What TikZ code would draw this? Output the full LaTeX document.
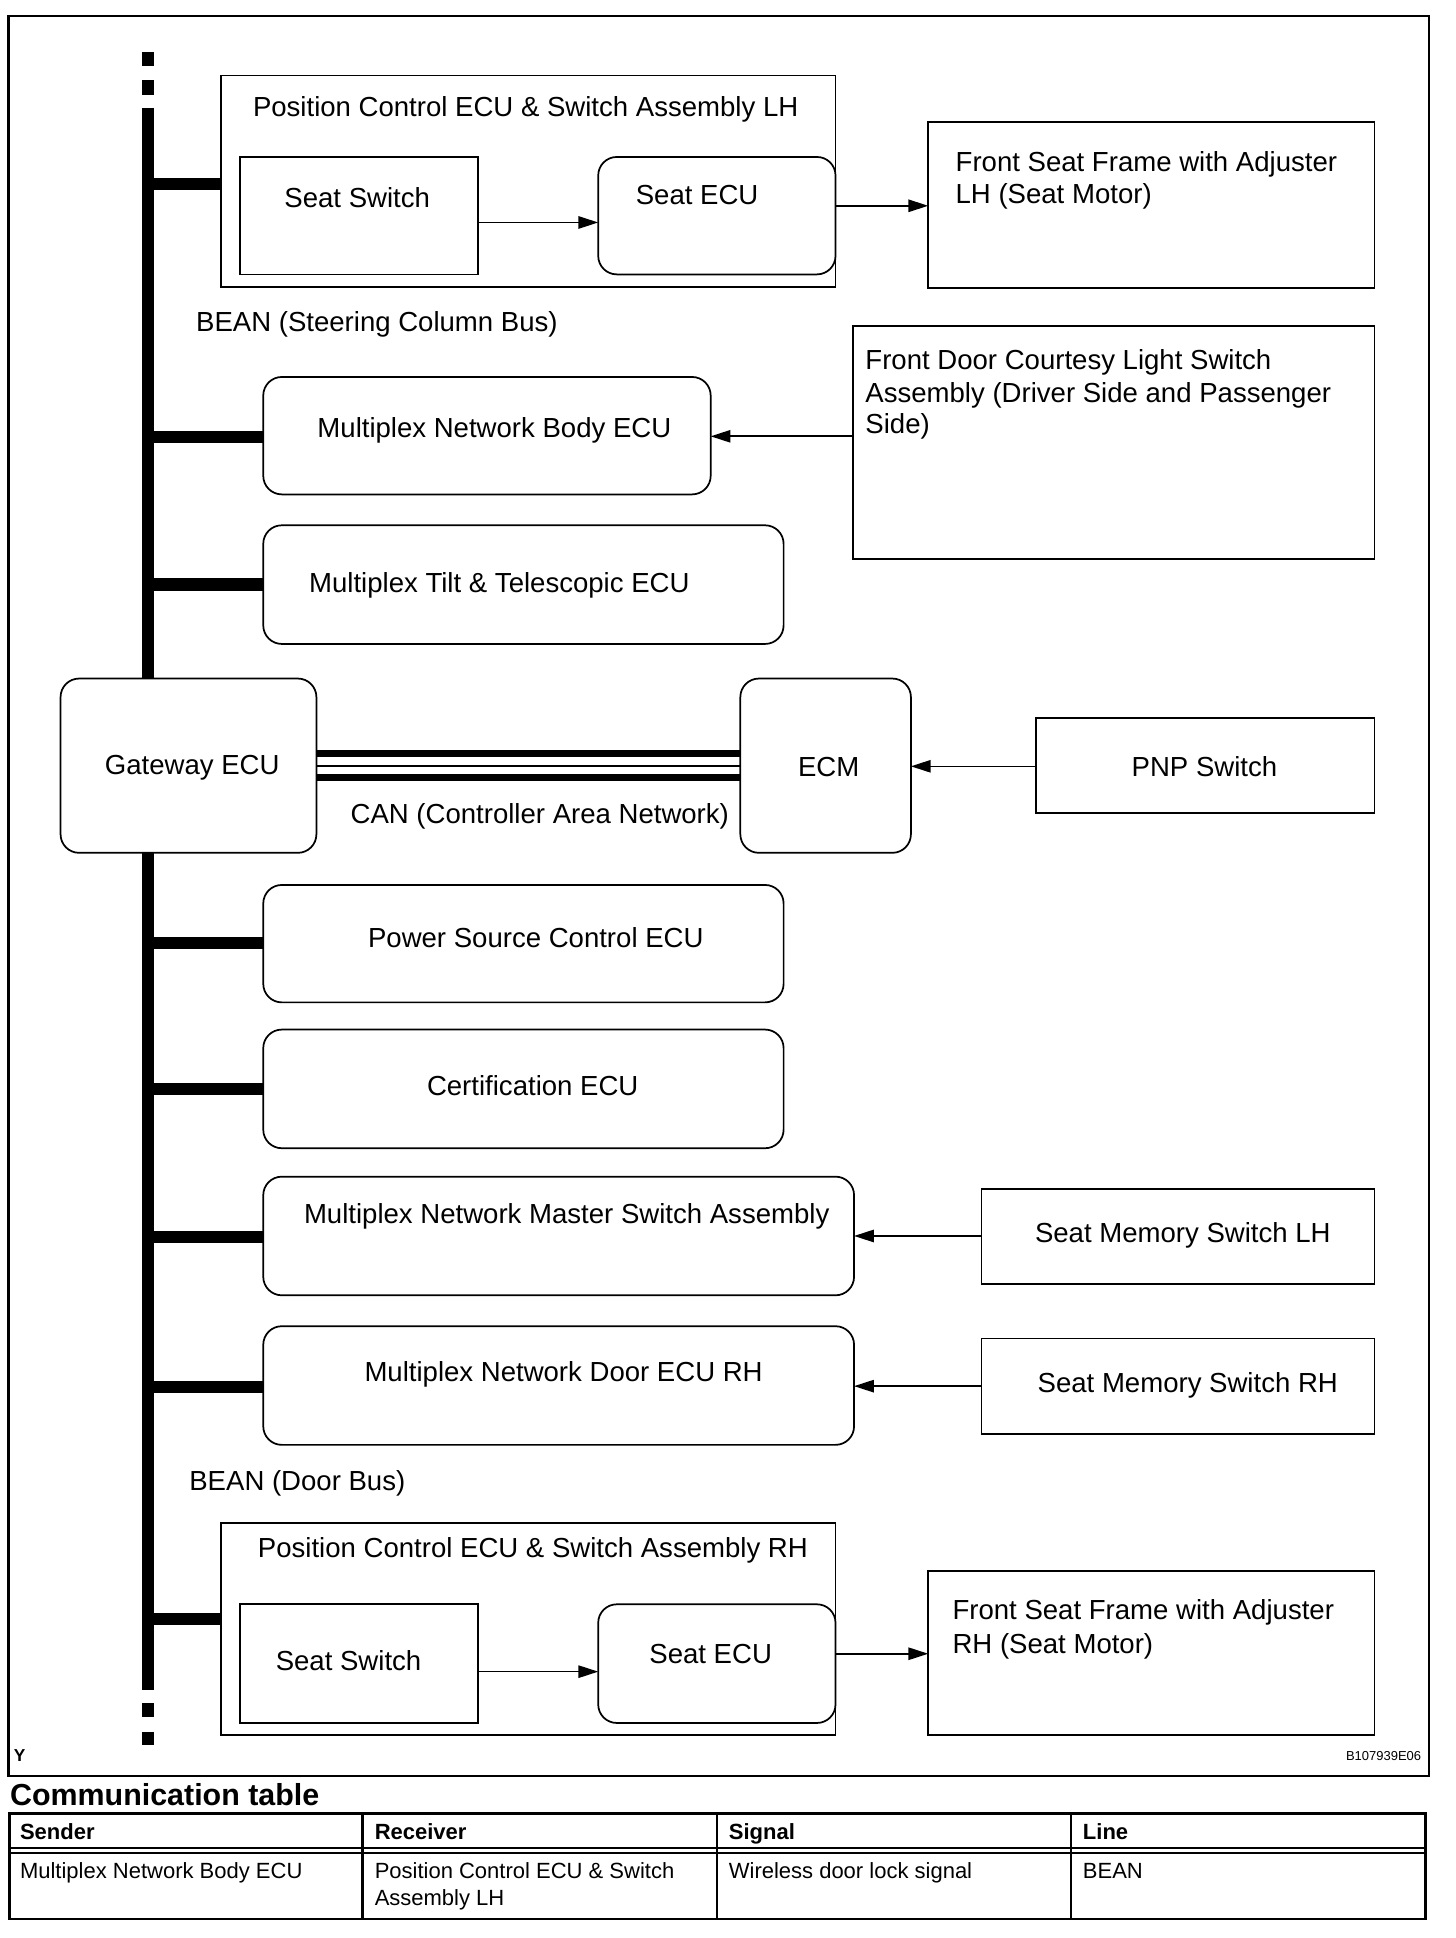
\documentclass[tikz,border=0pt]{standalone}
\usepackage{fontspec}
\setmainfont{Liberation Sans}
\usetikzlibrary{arrows.meta}
\newcommand\mkbox[6]{\node[#2, minimum width=#5-#3, minimum height=#6-#4] (#1) at (#3,#4) {};}
\begin{document}
\begin{tikzpicture}[x=1pt,y=-1pt,
  box/.style={draw, line width=1.4pt, fill=white, anchor=north west, inner sep=0pt, outer sep=0pt},
  rbox/.style={box, rounded corners=15pt},
  txt/.style={font=\fontsize{22.3}{26.5}\selectfont, inner sep=0pt},
  ltxt/.style={txt, anchor=base west},
  ctxt/.style={txt, anchor=base},
  arr/.style={line width=1.3pt, -{Triangle[length=16pt,width=10pt]}},
  stub/.style={line width=10pt},
  busline/.style={line width=10pt},
  tbl/.style={line width=2.2pt},
  thtxt/.style={font=\fontsize{17.8}{23}\selectfont\bfseries, inner sep=0pt, anchor=base west},
  tdtxt/.style={font=\fontsize{17.8}{23}\selectfont, inner sep=0pt, anchor=base west},
  ]
\useasboundingbox (0,0) rectangle (1178,1568);
% outer frame
\draw[line width=2pt] (7,13) rectangle (1156,1437);
% bus
\coordinate (bus) at (120,0);
\draw[busline] (120,42) -- (120,53);
\draw[busline] (120,65) -- (120,77);
\draw[busline] (120,87) -- (120,1367);
\draw[busline] (120,1378) -- (120,1389);
\draw[busline] (120,1401) -- (120,1412);

% ---------- boxes ----------
\mkbox{posL}{box}{179}{61}{676}{232}
\mkbox{swL}{box}{194}{127}{387}{222}
\mkbox{ecuL}{rbox}{484}{127}{676}{222}
\mkbox{frameL}{box}{751}{99}{1112}{233}
\mkbox{body}{rbox}{213}{305}{575}{400}
\mkbox{door}{box}{690}{264}{1112}{452}
\mkbox{tilt}{rbox}{213}{425}{634}{521}
\mkbox{gw}{rbox}{49}{549}{256}{690}
\mkbox{ecm}{rbox}{599}{549}{737}{690}
\mkbox{pnp}{box}{838}{581}{1112}{658}
\mkbox{pwr}{rbox}{213}{716}{634}{811}
\mkbox{cert}{rbox}{213}{833}{634}{929}
\mkbox{master}{rbox}{213}{952}{691}{1048}
\mkbox{memL}{box}{794}{962}{1112}{1039}
\mkbox{doorR}{rbox}{213}{1073}{691}{1169}
\mkbox{memR}{box}{794}{1083}{1112}{1160}
\mkbox{posR}{box}{179}{1232}{676}{1404}
\mkbox{swR}{box}{194}{1298}{387}{1394}
\mkbox{ecuR}{rbox}{484}{1298}{676}{1394}
\mkbox{frameR}{box}{751}{1271}{1112}{1404}

% ---------- bus stubs ----------
\draw[stub] (bus |- 0,149) -- (posL.west |- 0,149);
\draw[stub] (bus |- 0,353.5) -- (body.west |- 0,353.5);
\draw[stub] (bus |- 0,473) -- (tilt.west |- 0,473);
\draw[stub] (bus |- 0,763) -- (pwr.west |- 0,763);
\draw[stub] (bus |- 0,881) -- (cert.west |- 0,881);
\draw[stub] (bus |- 0,1001) -- (master.west |- 0,1001);
\draw[stub] (bus |- 0,1122) -- (doorR.west |- 0,1122);
\draw[stub] (bus |- 0,1310) -- (posR.west |- 0,1310);

% ---------- CAN ----------
\draw[line width=6pt] (gw.east |- 0,609.5) -- (ecm.west |- 0,609.5);
\draw[line width=1.5pt] (gw.east |- 0,619.5) -- (ecm.west |- 0,619.5);
\draw[line width=5pt] (gw.east |- 0,629) -- (ecm.west |- 0,629);

% ---------- arrows ----------
\draw[arr] (swL.east |- 0,180) -- (ecuL.west |- 0,180);
\draw[arr] (ecuL.east |- 0,166.5) -- (frameL.west |- 0,166.5);
\draw[arr] (door.west |- 0,353) -- (body.east |- 0,353);
\draw[arr] (pnp.west |- 0,620) -- (ecm.east |- 0,620);
\draw[arr] (memL.west |- 0,1000) -- (master.east |- 0,1000);
\draw[arr] (memR.west |- 0,1121.5) -- (doorR.east |- 0,1121.5);
\draw[arr] (swR.east |- 0,1352.5) -- (ecuR.west |- 0,1352.5);
\draw[arr] (ecuR.east |- 0,1338) -- (frameR.west |- 0,1338);

% ---------- texts ----------
\node[ltxt] (tposL) at (204.5,94) {Position Control ECU \& Switch Assembly LH};
\node[ctxt] (tswL) at (289,167.5) {Seat Switch};
\node[ctxt] (tecuL) at (564,165.5) {Seat ECU};
\node[ltxt] (tframeL1) at (773,139) {Front Seat Frame with Adjuster};
\node[ltxt] (tframeL2) at (773,165) {LH (Seat Motor)};
\node[ltxt] (tbean1) at (158.5,268) {BEAN (Steering Column Bus)};
\node[ctxt] (tbody) at (400,354) {Multiplex Network Body ECU};
\node[ltxt] (tdoor1) at (700,299) {Front Door Courtesy Light Switch};
\node[ltxt] (tdoor2) at (700,325.5) {Assembly (Driver Side and Passenger};
\node[ltxt] (tdoor3) at (700,351) {Side)};
\node[ctxt] (ttilt) at (404,479) {Multiplex Tilt \& Telescopic ECU};
\node[ctxt] (tgw) at (155.5,627) {Gateway ECU};
\node[ctxt] (tecm) at (670.5,628) {ECM};
\node[ltxt] (tcan) at (283.5,666.5) {CAN (Controller Area Network)};
\node[ctxt] (tpnp) at (974.5,628) {PNP Switch};
\node[ctxt] (tpwr) at (433.5,767) {Power Source Control ECU};
\node[ctxt] (tcert) at (431,886) {Certification ECU};
\node[ctxt] (tmaster) at (458.5,990) {Multiplex Network Master Switch Assembly};
\node[ctxt] (tmemL) at (957,1005) {Seat Memory Switch LH};
\node[ctxt] (tdoorR) at (456,1118) {Multiplex Network Door ECU RH};
\node[ctxt] (tmemR) at (961,1127) {Seat Memory Switch RH};
\node[ltxt] (tbean2) at (153,1206) {BEAN (Door Bus)};
\node[ltxt] (tposR) at (208.5,1260.5) {Position Control ECU \& Switch Assembly RH};
\node[ctxt] (tswR) at (282,1351.5) {Seat Switch};
\node[ctxt] (tecuR) at (575,1346) {Seat ECU};
\node[ltxt] (tframeR1) at (770.5,1310) {Front Seat Frame with Adjuster};
\node[ltxt] (tframeR2) at (770.5,1337.5) {RH (Seat Motor)};

\node[font=\fontsize{14}{16}\selectfont\bfseries, inner sep=0pt, anchor=base west] (ty) at (11,1425.5) {Y};
\node[font=\fontsize{10.5}{12}\selectfont, inner sep=0pt, anchor=base east] (tcode) at (1150,1424) {B107939E06};

% ---------- communication table ----------
\node[font=\fontsize{24.6}{28}\selectfont\bfseries, inner sep=0pt, anchor=base west] (ttitle) at (8,1461) {Communication table};
\draw[tbl] (7.5,1467) rectangle (1153.5,1552.5);
\draw[line width=1.8pt] (7.5,1495) -- (1153.5,1495);
\draw[line width=1.8pt] (7.5,1499.3) -- (1153.5,1499.3);
\draw[tbl] (293.5,1467) -- (293.5,1552.5);
\draw[tbl] (580,1467) -- (580,1552.5);
\draw[tbl] (866.5,1467) -- (866.5,1552.5);
\node[thtxt] (hs) at (16,1488) {Sender};
\node[thtxt] (hr) at (303,1488) {Receiver};
\node[thtxt] (hsig) at (589.5,1488) {Signal};
\node[thtxt] (hl) at (876,1488) {Line};
\node[tdtxt] (d1) at (16,1520) {Multiplex Network Body ECU};
\node[tdtxt] (d2a) at (303,1520) {Position Control ECU \& Switch};
\node[tdtxt] (d2b) at (303,1542) {Assembly LH};
\node[tdtxt] (d3) at (589.5,1520) {Wireless door lock signal};
\node[tdtxt] (d4) at (876,1520) {BEAN};
\end{tikzpicture}
\end{document}
